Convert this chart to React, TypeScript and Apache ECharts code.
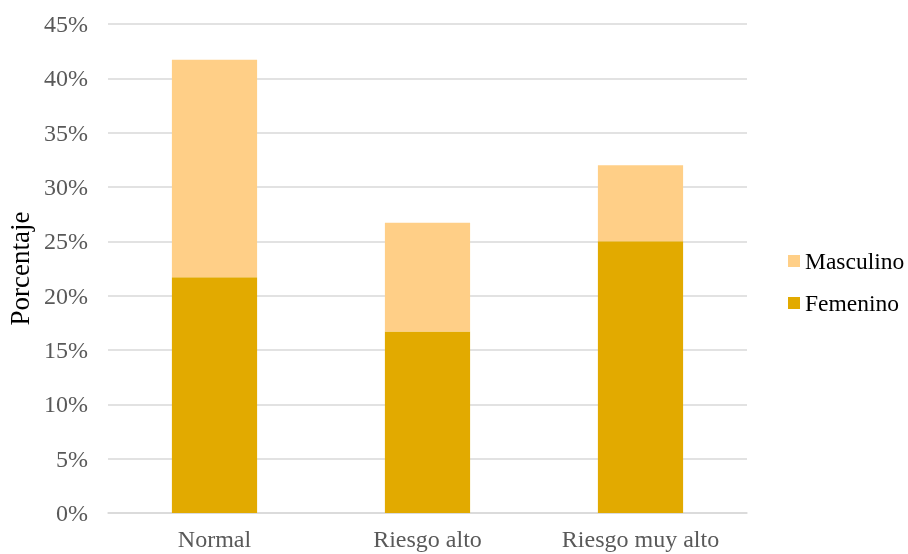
import React, { useEffect, useRef } from "react";
import * as echarts from "echarts";

const categories = ["Normal", "Riesgo alto", "Riesgo muy alto"];
const femenino = [21.7, 16.7, 25.0];
const masculino = [20.0, 10.0, 7.0];
const yTicks = [0, 5, 10, 15, 20, 25, 30, 35, 40, 45];

const FONT = "'Liberation Serif', 'Times New Roman', serif";

export default function App() {
  const ref = useRef<HTMLDivElement>(null);

  useEffect(() => {
    if (!ref.current) return;
    const chart = echarts.init(ref.current, undefined, { renderer: "svg" });
    chart.setOption({
      animation: false,
      textStyle: { fontFamily: FONT },
      grid: {
        left: 108,
        right: 161,
        top: 24,
        bottom: 41,
        containLabel: false,
        outerBoundsMode: "none",
      },
      legend: {
        orient: "vertical",
        left: 788,
        top: 249,
        padding: 0,
        itemWidth: 12,
        itemHeight: 12,
        itemGap: 18,
        icon: "rect",
        data: ["Masculino", "Femenino"],
        textStyle: { fontFamily: FONT, fontSize: 23.5, color: "#000" },
      },
      xAxis: {
        type: "category",
        data: categories,
        axisLine: { lineStyle: { color: "#d9d9d9", width: 1.5 } },
        axisTick: { show: false },
        axisLabel: { fontFamily: FONT, fontSize: 24, color: "#595959", margin: 14 },
      },
      yAxis: {
        type: "value",
        min: yTicks[0],
        max: yTicks[yTicks.length - 1],
        interval: 5,
        name: "Porcentaje",
        nameLocation: "middle",
        nameGap: 68,
        nameTextStyle: { fontFamily: FONT, fontSize: 27, color: "#000" },
        axisLine: { show: false },
        axisTick: { show: false },
        axisLabel: {
          fontFamily: FONT,
          fontSize: 24,
          color: "#595959",
          margin: 20,
          formatter: (v: number) => `${v}%`,
        },
        splitLine: { lineStyle: { color: "#d9d9d9", width: 1.5 } },
      },
      series: [
        {
          name: "Femenino",
          type: "bar",
          stack: "total",
          barWidth: "40%",
          data: femenino,
          itemStyle: { color: "#E2AA00" },
        },
        {
          name: "Masculino",
          type: "bar",
          stack: "total",
          barWidth: "40%",
          data: masculino,
          itemStyle: { color: "#FFCF87" },
        },
      ],
    });
    return () => chart.dispose();
  }, []);

  return (
    <div
      ref={ref}
      style={{ position: "fixed", left: 0, top: 0, width: 908, height: 554 }}
    />
  );
}
